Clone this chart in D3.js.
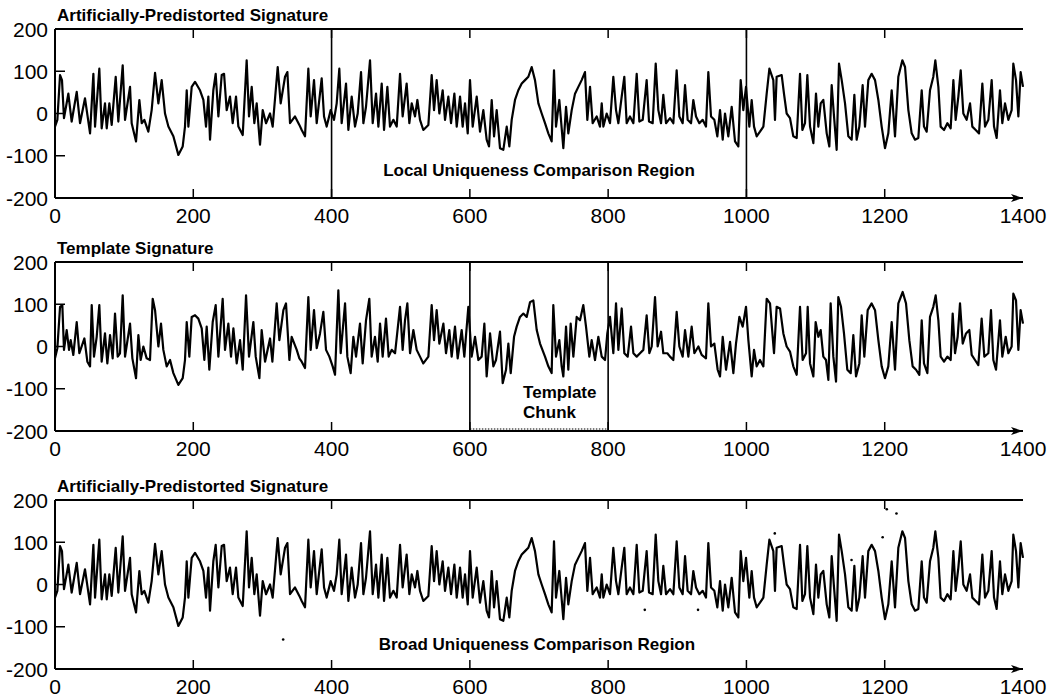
<!DOCTYPE html>
<html>
<head>
<meta charset="utf-8">
<script src="https://cdn.jsdelivr.net/npm/d3@7"></script>
<style>
  html, body { margin: 0; padding: 0; background: #fff; }
  svg { display: block; }
  .tick-label { font-family: "Liberation Sans", Arial, sans-serif; font-size: 21px; fill: #000; }
  .title, .note { font-family: "Liberation Sans", Arial, sans-serif; font-weight: bold; fill: #000; }
</style>
</head>
<body>
<svg id="chart" width="1050" height="698"></svg>
<script>
// Sample index axis and amplitude axis ticks
const xTicks = [0, 200, 400, 600, 800, 1000, 1200, 1400];
const yTicks = [-200, -100, 0, 100, 200];

// Artificially-predistorted signature: vertices (sample index, amplitude)
const predistortedT = [0,3.4,7.3,10.1,13.0,19.3,24.1,31.4,36.2,43.4,50.7,55.5,57.9,64.1,67.5,72.3,74.8,78.6,82.0,87.8,91.6,97.9,101.3,108.5,110.9,117.2,122.0,125.4,129.2,135.0,139.8,144.7,149.5,154.3,159.1,164.0,171.2,178.4,184.7,188.0,190.5,192.9,197.7,202.5,209.7,214.6,218.4,221.8,224.2,229.0,232.4,236.3,241.1,244.5,248.3,253.1,257.0,261.8,265.2,271.5,277.2,280.6,284.5,288.3,291.7,296.5,300.4,305.2,311.0,314.8,322.1,326.4,332.7,336.1,339.9,347.1,353.4,356.8,361.6,366.4,369.8,374.6,378.5,385.7,389.1,392.9,398.7,403.5,407.4,411.2,414.6,420.9,424.3,429.1,433.9,437.8,442.6,446.0,449.8,455.6,459.5,464.3,467.7,472.5,475.9,480.7,484.5,489.4,494.2,499.0,502.8,508.6,512.5,515.9,520.7,524.1,527.9,532.7,540.0,544.8,548.2,552.0,555.9,560.7,564.1,568.9,572.8,577.6,581.0,585.8,589.6,593.0,596.9,600.2,604.1,609.9,614.7,619.5,624.3,627.7,631.6,635.0,638.8,643.6,648.4,653.3,657.1,660.5,665.3,670.1,675.0,679.8,684.6,689.4,694.2,699.1,703.9,708.7,713.5,718.3,721.7,724.6,729.4,735.2,739.1,742.4,747.3,752.1,756.9,761.7,766.5,769.9,773.8,777.6,783.4,788.2,790.7,793.1,797.9,802.7,807.5,811.4,814.8,819.6,823.4,826.8,831.6,836.5,841.3,845.1,850.0,855.7,859.1,864.4,868.8,872.6,876.5,879.8,883.7,889.5,894.3,899.1,903.0,907.8,911.2,915.0,919.9,923.2,927.1,931.9,936.7,941.5,944.9,948.8,953.6,957.9,961.8,965.7,969.0,973.8,978.7,983.5,988.3,991.7,995.5,999.4,1004.2,1007.6,1011.0,1014.8,1019.6,1024.5,1029.3,1033.2,1038.9,1041.3,1043.7,1051.0,1054.3,1058.2,1063.0,1067.8,1072.7,1077.5,1080.9,1084.7,1088.1,1092.0,1096.8,1100.6,1104.0,1107.4,1111.2,1116.1,1119.9,1123.3,1126.7,1130.5,1133.9,1137.8,1142.6,1147.4,1152.2,1156.1,1159.4,1163.3,1168.1,1171.5,1176.3,1181.1,1186.0,1190.8,1195.6,1200.4,1205.2,1210.1,1214.9,1219.7,1225.5,1229.4,1234.2,1239.0,1243.8,1248.6,1253.5,1256.8,1260.7,1265.5,1270.3,1273.2,1277.6,1280.9,1285.8,1290.6,1295.4,1299.3,1302.6,1306.5,1309.9,1313.7,1318.5,1323.4,1326.7,1331.6,1336.4,1341.2,1345.1,1349.9,1354.7,1358.1,1361.9,1366.7,1370.1,1374.0,1378.8,1383.6,1386.0,1389.9,1393.3,1396.6,1400];
const predistortedAmp = [-31,-15,91,79,-11,47,-19,51,-23,36,-47,94,-31,106,-35,24,-35,24,-27,87,-19,114,-15,63,-23,-66,32,-23,-15,-43,8,96,24,79,0,-31,-54,-98,-78,-31,55,-31,63,75,55,32,-31,40,-62,55,94,-7,91,94,8,40,-23,40,-31,-51,126,-7,63,-23,24,-74,8,-23,0,-31,110,24,87,98,-23,-7,-27,-39,-54,106,-7,79,-23,83,-7,-31,8,-15,24,106,-23,71,-39,40,-31,0,98,-23,16,126,-23,47,-31,71,-39,63,-31,-15,-31,94,-7,71,-23,24,-7,32,-15,-39,-27,91,8,79,0,55,-15,40,-23,47,-31,40,-31,24,-47,79,-31,40,-43,8,-62,-78,32,-54,8,-82,-86,-31,-78,-15,32,55,71,79,87,110,79,24,0,-23,-47,-66,102,-31,32,-82,16,-47,8,47,63,79,98,-15,63,-23,-7,-31,24,-31,0,-23,87,8,-23,40,87,-23,-7,-23,94,-19,-15,79,-19,-23,118,8,-23,44,-23,-11,-23,102,-7,-23,67,-15,-23,32,-7,-23,-15,-31,98,-7,-15,-54,8,-62,0,-54,16,-66,-78,79,8,63,-31,32,-31,-54,-43,-31,47,106,79,-15,87,91,47,0,-11,-54,-58,94,-39,-23,91,-31,-70,47,-31,24,32,-47,-78,67,-7,-86,118,79,24,-54,-62,44,-62,-31,67,-31,79,94,79,32,-31,-82,-47,55,-54,87,126,110,8,-47,-62,-58,55,-31,-43,55,87,126,63,-31,-39,-23,-35,79,-15,40,102,0,-15,24,-31,-39,-47,71,-31,-15,79,-31,-58,55,-23,24,-15,8,118,79,-7,98,63];

// Template signature: vertices (sample index, amplitude)
const templateT = [0,3.4,7.3,10.6,13.0,16.9,20.3,22.7,26.5,31.4,35.2,42.5,46.8,50.7,53.1,56.4,60.3,64.1,67.5,72.3,75.7,79.6,83.4,86.8,90.7,94.0,97.9,101.3,108.5,111.9,117.2,120.6,123.9,127.8,132.6,137.4,141.3,144.7,149.5,153.3,156.7,161.5,166.4,171.2,178.4,184.7,188.0,190.5,194.3,197.7,202.5,207.3,212.2,216.0,219.4,223.2,228.1,232.4,236.3,242.5,245.9,250.7,254.6,258.0,262.8,267.6,271.5,276.3,280.6,286.9,290.3,295.6,298.9,303.8,311.0,314.4,320.6,324.5,330.3,334.1,339.0,342.3,349.6,353.4,356.8,361.6,366.4,369.8,374.6,378.5,383.3,388.1,392.0,396.8,401.6,405.0,409.8,413.2,419.5,422.8,427.6,431.5,435.4,441.1,445.0,449.8,454.6,458.0,462.8,466.7,470.1,473.9,478.7,482.6,486.9,491.8,499.0,502.8,506.2,509.6,513.5,518.3,523.1,527.9,532.7,540.0,544.8,548.2,552.0,555.9,561.7,565.5,570.3,573.7,578.5,582.4,588.2,592.0,597.8,602.6,607.5,612.3,617.1,621.0,624.3,629.2,634.0,637.8,643.6,647.5,652.3,655.7,659.1,663.9,667.7,672.5,677.4,682.2,687.0,691.8,696.7,701.5,708.7,713.5,718.3,720.7,724.6,729.4,732.8,735.2,739.1,742.4,745.8,749.7,754.5,759.3,764.1,768.0,772.8,776.2,781.0,785.8,790.7,795.5,798.8,802.7,807.5,811.4,814.8,819.6,823.4,828.3,833.1,836.5,841.3,846.1,850.9,855.7,859.6,863.0,867.8,871.6,876.5,879.8,885.6,889.5,894.3,899.1,903.0,907.8,911.2,916.0,920.8,924.7,930.5,935.3,941.5,944.9,948.8,953.6,958.4,961.8,965.7,970.5,976.3,981.1,984.9,989.8,994.6,999.4,1002.8,1007.6,1011.0,1014.8,1019.6,1024.5,1029.3,1034.1,1039.9,1043.7,1048.6,1053.4,1058.2,1063.0,1067.8,1072.7,1077.5,1081.3,1086.2,1088.6,1092.0,1096.8,1100.1,1104.0,1107.4,1111.2,1115.1,1118.5,1121.8,1125.7,1129.6,1132.9,1136.8,1141.1,1145.9,1150.8,1154.6,1158.5,1163.3,1166.7,1170.5,1175.4,1181.1,1186.0,1190.8,1195.6,1200.4,1205.2,1210.1,1214.9,1219.7,1226.0,1230.8,1235.6,1240.4,1245.3,1250.1,1253.5,1256.8,1261.7,1265.5,1270.3,1273.7,1277.6,1280.9,1285.8,1290.6,1295.4,1298.3,1301.7,1305.5,1308.9,1312.8,1317.6,1322.4,1325.8,1330.6,1335.4,1340.2,1344.1,1349.9,1353.7,1357.1,1361.0,1366.7,1370.1,1375.0,1378.8,1383.6,1386.0,1389.9,1393.3,1396.6,1400];
const templateAmp = [-28,-4,94,98,-8,39,-8,15,-20,58,-16,19,-36,-47,98,-24,23,98,-36,31,-40,27,-28,78,-24,-16,121,-24,54,-28,-75,27,-32,0,-28,-32,113,86,0,54,-8,-47,-32,-63,-91,-75,-32,58,-24,70,74,66,43,-32,47,-55,58,98,-24,113,-8,54,-24,43,-40,15,-55,121,-24,58,-24,-75,39,-36,19,-36,102,15,86,102,-32,23,-8,-28,-36,-51,117,-8,86,-4,31,82,-8,-24,-47,-67,133,-16,102,-24,-63,23,-24,54,-40,62,113,-24,23,-36,54,-24,66,-24,-8,-16,94,-8,62,102,-16,39,-8,-24,-40,-24,98,15,86,7,54,-16,39,-24,47,-28,39,-24,94,-24,23,-32,-24,54,-71,31,-47,-32,35,-87,-55,7,-63,23,47,70,78,70,105,109,39,7,-24,-47,-63,98,-24,15,-47,-71,47,-55,54,-24,70,62,98,47,-24,15,-32,23,-24,-32,31,70,-16,102,-8,90,-16,-24,47,-16,-24,-16,-8,74,-16,0,117,0,35,-16,-16,-24,-32,82,0,-24,39,-24,47,-16,0,-20,-28,102,0,7,-55,-71,23,-55,11,-63,7,70,47,94,15,-71,-8,-47,-32,-47,113,102,-16,94,90,31,0,-12,-47,-67,94,-32,-16,94,-40,-71,58,23,39,-24,-32,-79,102,-24,-83,117,94,31,-55,-63,27,-71,-40,74,-24,86,102,86,15,-47,-75,-47,58,-55,102,129,102,15,-47,-55,-67,62,-40,-63,70,94,121,62,-24,-36,-24,-32,78,-16,23,102,7,31,39,-20,-32,-44,66,-24,-16,86,-32,-55,62,-24,23,-16,0,125,109,-8,86,54];

// Isolated specks on the lower trace
const speckT = [330, 853, 930, 1041, 1152, 1197, 1203, 1217];
const speckAmp = [-130, -60, -60, 121, 58, 112, 178, 168];

const panelTitles = ["Artificially-Predistorted Signature", "Template Signature", "Artificially-Predistorted Signature"];
const localRegion = [400, 1000];
const templateChunk = [600, 800];

const svg = d3.select("#chart");
const left = 55, right = 1023, plotH = 169;
const panelTops = [29, 262, 500];

const x = d3.scaleLinear().domain([0, 1400]).range([left, right]);

const predistorted = predistortedT.map((t, i) => [t, predistortedAmp[i]]);
const template = templateT.map((t, i) => [t, templateAmp[i]]);
const specks = speckT.map((t, i) => [t, speckAmp[i]]);

svg.append("defs").append("marker")
  .attr("id", "arrow").attr("viewBox", "0 0 12 8")
  .attr("refX", 12).attr("refY", 4)
  .attr("markerWidth", 12).attr("markerHeight", 8)
  .attr("markerUnits", "userSpaceOnUse").attr("orient", "auto")
  .append("path").attr("d", "M0,0 L12,4 L0,8 L3,4 Z").attr("fill", "#000");

function drawPanel(idx, series, opts) {
  const top = panelTops[idx];
  const y = d3.scaleLinear().domain([-200, 200]).range([top + plotH, top]);
  const g = svg.append("g");

  // signal trace
  const line = d3.line().x(d => x(d[0])).y(d => y(d[1]));
  g.append("path").datum(series)
    .attr("d", line).attr("fill", "none")
    .attr("stroke", "#000").attr("stroke-width", 2.2)
    .attr("stroke-linejoin", "round");

  // frame: left, top, bottom (with arrow)
  g.append("line").attr("x1", x(0)).attr("x2", x(0)).attr("y1", y(200)).attr("y2", y(-200))
    .attr("stroke", "#000").attr("stroke-width", 2);
  g.append("line").attr("x1", x(0)).attr("x2", x(1400)).attr("y1", y(200)).attr("y2", y(200))
    .attr("stroke", "#000").attr("stroke-width", 1.8);
  g.append("line").attr("x1", x(0)).attr("x2", x(1400)).attr("y1", y(-200)).attr("y2", y(-200))
    .attr("stroke", "#000").attr("stroke-width", 2).attr("marker-end", "url(#arrow)");

  // inward ticks
  const xt = xTicks.slice(1, -1);
  g.selectAll(".tb").data(xt).join("line")
    .attr("x1", d => x(d)).attr("x2", d => x(d))
    .attr("y1", y(-200)).attr("y2", y(-200) - 9)
    .attr("stroke", "#000").attr("stroke-width", 1.5);
  g.selectAll(".tt").data(xt).join("line")
    .attr("x1", d => x(d)).attr("x2", d => x(d))
    .attr("y1", y(200)).attr("y2", y(200) + 9)
    .attr("stroke", "#000").attr("stroke-width", 1.5);
  g.selectAll(".tl").data(yTicks.slice(1, -1)).join("line")
    .attr("x1", x(0)).attr("x2", x(0) + 10)
    .attr("y1", d => y(d)).attr("y2", d => y(d))
    .attr("stroke", "#000").attr("stroke-width", 1.5);

  // tick labels
  g.selectAll(".yl").data(yTicks).join("text")
    .attr("class", "tick-label")
    .attr("x", x(0) - 7).attr("y", d => y(d))
    .attr("text-anchor", "end").attr("dominant-baseline", "central")
    .text(d => d);
  g.selectAll(".xl").data(xTicks).join("text")
    .attr("class", "tick-label")
    .attr("x", d => x(d)).attr("y", y(-200) + 17)
    .attr("text-anchor", "middle").attr("dominant-baseline", "central")
    .text(d => d);

  // title
  g.append("text").attr("class", "title")
    .attr("x", x(0) + 2).attr("y", y(200) - 8)
    .attr("font-size", 17)
    .text(panelTitles[idx]);

  if (opts.vlines) {
    g.selectAll(".vl").data(opts.vlines).join("line")
      .attr("x1", d => x(d)).attr("x2", d => x(d))
      .attr("y1", y(200)).attr("y2", y(-200))
      .attr("stroke", "#000").attr("stroke-width", 1.6);
  }
  if (opts.dotted) {
    g.append("line")
      .attr("x1", x(opts.dotted[0])).attr("x2", x(opts.dotted[1]))
      .attr("y1", y(-200) - 2).attr("y2", y(-200) - 2)
      .attr("stroke", "#000").attr("stroke-width", 1.2)
      .attr("stroke-dasharray", "1.5,1.5");
  }
  if (opts.specks) {
    g.selectAll(".sp").data(opts.specks).join("circle")
      .attr("cx", d => x(d[0])).attr("cy", d => y(d[1])).attr("r", 1.3)
      .attr("fill", "#000");
  }
  return { g, y };
}

const p1 = drawPanel(0, predistorted, { vlines: localRegion });
p1.g.append("text").attr("class", "note")
  .attr("x", x(700)).attr("y", p1.y(-135))
  .attr("text-anchor", "middle").attr("dominant-baseline", "central")
  .attr("font-size", 17)
  .text("Local Uniqueness Comparison Region");

const p2 = drawPanel(1, template, { vlines: templateChunk, dotted: templateChunk });
p2.g.append("text").attr("class", "note")
  .attr("x", x(677)).attr("y", p2.y(-109))
  .attr("dominant-baseline", "central").attr("font-size", 17)
  .text("Template");
p2.g.append("text").attr("class", "note")
  .attr("x", x(677)).attr("y", p2.y(-156))
  .attr("dominant-baseline", "central").attr("font-size", 17)
  .text("Chunk");

const p3 = drawPanel(2, predistorted, { specks: specks });
p3.g.append("text").attr("class", "note")
  .attr("x", x(697)).attr("y", p3.y(-143))
  .attr("text-anchor", "middle").attr("dominant-baseline", "central")
  .attr("font-size", 17)
  .text("Broad Uniqueness Comparison Region");
</script>
</body>
</html>
